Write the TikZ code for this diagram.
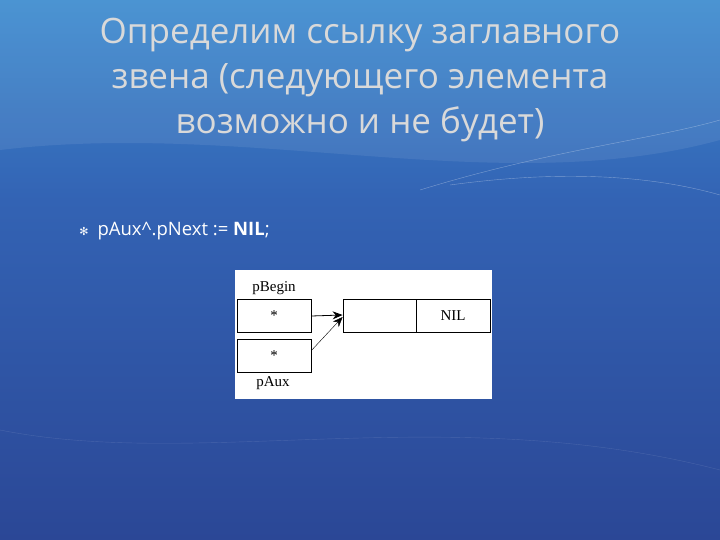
\documentclass[tikz,border=0pt]{standalone}
\usepackage{fontspec}
\usetikzlibrary{arrows.meta}
\setmainfont{Open Sans}
\newfontfamily\serifdiag{Liberation Serif}
\newfontfamily\symf{DejaVu Sans}
\begin{document}
\begin{tikzpicture}[x=1pt,y=-1pt,
  cell/.style={draw=black,thick,minimum height=33pt,inner sep=0pt,font=\serifdiag\fontsize{15}{15}\selectfont},
  lbl/.style={font=\serifdiag\fontsize{15}{15}\selectfont,inner sep=0pt},
  ptr/.style={-{Stealth[length=10pt,width=8pt]},thick}]
\definecolor{bgtop}{HTML}{3C8BCF}
\definecolor{bgmid}{HTML}{3363B4}
\definecolor{bgbot}{HTML}{2B4796}
\useasboundingbox (0,0) rectangle (720,540);
\shade[top color=bgtop,bottom color=bgmid] (0,0) rectangle (720,200);
\shade[top color=bgmid,bottom color=bgbot] (0,200) rectangle (720,540);
\fill[white,opacity=0.08] (0,150) .. controls (250,120) and (500,200) .. (720,140) -- (720,0) -- (0,0) -- cycle;
\draw[white,opacity=0.35] (420,190) .. controls (550,150) and (650,140) .. (720,120);
\draw[white,opacity=0.35] (450,185) .. controls (560,170) and (650,175) .. (720,195);
\draw[white,opacity=0.12] (0,430) .. controls (200,470) and (450,400) .. (720,470);
\node[text=white!85!black,align=center,font=\fontsize{35}{45}\selectfont] (title) at (360,80)
  {Определим ссылку заглавного\\звена (следующего элемента\\возможно и не будет)};
\node[text=white,font=\symf\fontsize{11}{11}\selectfont] (bul) at (84,231) {✻};
\node[text=white,anchor=west,font=\fontsize{18.5}{18.5}\selectfont] (code) at (94,231) {pAux\^{}.pNext := \textbf{NIL};};
\fill[white] (235,270) rectangle (492,399);
\node[cell,minimum width=74pt] (pb) at (274,316) {*};
\node[cell,minimum width=74pt] (pa) at (274,355.5) {*};
\node[cell,minimum width=73pt] (d) at (379.5,316) {};
\node[cell,minimum width=74pt] (n) at (453,316) {NIL};
\node[lbl] (lb) at (274,288) {pBegin};
\node[lbl] (la) at (273,383) {pAux};
\draw[ptr] (pb.east) -- ([yshift=1pt]d.west);
\draw[ptr,thin] ([yshift=5pt]pa.east) -- ([yshift=-1pt]d.west);
\end{tikzpicture}
\end{document}
